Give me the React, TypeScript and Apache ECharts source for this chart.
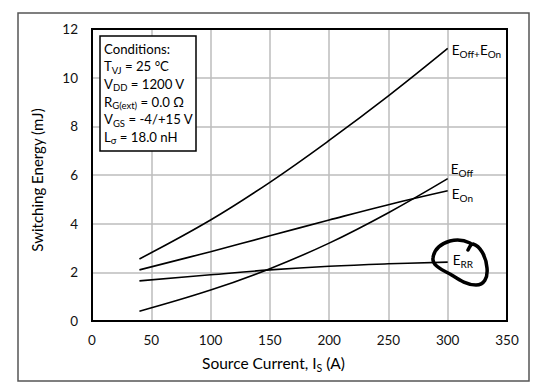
import React, { useEffect, useRef } from "react";
import * as echarts from "echarts";

const current = [40, 100, 150, 200, 250, 300];
const eOffOn = [2.55, 4.15, 5.7, 7.42, 9.25, 11.2];
const eOff = [0.4, 1.27, 2.15, 3.2, 4.45, 5.85];
const eOn = [2.1, 2.85, 3.5, 4.15, 4.78, 5.35];
const eRR = [1.65, 1.9, 2.1, 2.25, 2.35, 2.42];

const xTicks = { min: 0, max: 350, interval: 50 };
const yTicks = { min: 0, max: 12, interval: 2 };

const conditionLines = [
  "{m|Conditions:}",
  "{m|T}{s|VJ}{m| = 25 °C}",
  "{m|V}{s|DD}{m| = 1200 V}",
  "{m|R}{s|G(ext)}{m| = 0.0 Ω}",
  "{m|V}{s|GS}{m| = -4/+15 V}",
  "{m|L}{s|σ}{m| = 18.0 nH}",
];

const FONT = "Lato, 'Open Sans', sans-serif";

const CIRCLE_D =
  "M38 12 C40 8 41 6 43 6 C50 8 56 18 57 30 C58 40 54 47 46 47 C36 47 28 41 20 36 C8 30 2 26 3 20 C4 12 10 6 20 3 C28 1 34 2 40 5";

let registered = false;

const labelRich = {
  e: { fontSize: 13.5, lineHeight: 18, fontFamily: FONT, color: "#000", verticalAlign: "middle" as const },
  s: { fontSize: 10, lineHeight: 8, fontFamily: FONT, color: "#000", verticalAlign: "bottom" as const },
};

function mk(name: string, values: number[], fmt: string, offset: number[]) {
  return {
    name,
    type: "line",
    data: current.map((c, i) => [c, values[i]]),
    smooth: 0.4,
    showSymbol: false,
    lineStyle: { color: "#000", width: 1.6 },
    itemStyle: { color: "#000" },
    endLabel: {
      show: true,
      formatter: () => fmt,
      offset,
      distance: 0,
      rich: labelRich,
      align: "left",
      verticalAlign: "middle",
    },
  };
}

export default function App() {
  const ref = useRef<HTMLDivElement>(null);
  useEffect(() => {
    if (!ref.current) return;
    if (!registered) {
      echarts.graphic.registerShape("errCircle", echarts.graphic.extendPath(CIRCLE_D, {}) as any);
      registered = true;
    }
    const chart = echarts.init(ref.current, null, { renderer: "svg" });
    chart.setOption({
      animation: false,
      backgroundColor: "#fff",
      textStyle: { fontFamily: FONT },
      grid: {
        left: 92,
        top: 29,
        right: 32,
        bottom: 67,
        show: true,
        borderColor: "#000",
        borderWidth: 2,
        z: 3,
      },
      xAxis: {
        type: "value",
        ...xTicks,
        axisLine: { show: true, lineStyle: { color: "#000", width: 2 } },
        axisTick: { show: false },
        axisLabel: { fontSize: 13.5, color: "#111", margin: 12, fontFamily: FONT },
        splitLine: { show: true, showMinLine: false, showMaxLine: false, lineStyle: { color: "#bdbdbd", width: 1.5 } },
      },
      yAxis: {
        type: "value",
        ...yTicks,
        axisLine: { show: true, lineStyle: { color: "#000", width: 2 } },
        axisTick: { show: false },
        axisLabel: { fontSize: 13.5, color: "#111", margin: 14, fontFamily: FONT },
        splitLine: { show: true, showMinLine: false, showMaxLine: false, lineStyle: { color: "#bdbdbd", width: 1.5 } },
      },
      series: [
        mk("Eoff+Eon", eOffOn, "{e|E}{s|Off+}{e|E}{s|On}", [4, 2]),
        mk("Eoff", eOff, "{e|E}{s|Off}", [3, -10]),
        mk("Eon", eOn, "{e|E}{s|On}", [4, 3]),
        mk("Err", eRR, "{e|E}{s|RR}", [5, -2]),
      ],
      graphic: [
        {
          type: "rect",
          z: -1,
          shape: { x: 18, y: 13, width: 511, height: 368 },
          style: { fill: "none", stroke: "#555", lineWidth: 1.5 },
          silent: true,
        },
        {
          type: "rect",
          z: 10,
          shape: { x: 100, y: 36, width: 96, height: 115 },
          style: { fill: "#fff", stroke: "#000", lineWidth: 1.5 },
        },
        {
          type: "text",
          z: 11,
          x: 104,
          y: 40,
          style: {
            text: conditionLines.join("\n"),
            rich: {
              m: { fontSize: 13.2, lineHeight: 17.6, fontFamily: FONT, fill: "#000", verticalAlign: "middle" },
              s: { fontSize: 9.5, lineHeight: 7, fontFamily: FONT, fill: "#000", verticalAlign: "bottom" },
            },
          },
        },
        {
          type: "text",
          x: 273.5,
          y: 363,
          style: {
            text: "{m|Source Current, I}{s|S}{m| (A)}",
            align: "center",
            verticalAlign: "middle",
            rich: {
              m: { fontSize: 15.5, lineHeight: 20, fontFamily: FONT, fill: "#000", verticalAlign: "middle" },
              s: { fontSize: 10.5, lineHeight: 9, fontFamily: FONT, fill: "#000", verticalAlign: "bottom" },
            },
          },
        },
        {
          type: "text",
          x: 37,
          y: 180,
          rotation: Math.PI / 2,
          style: {
            text: "Switching Energy (mJ)",
            align: "center",
            verticalAlign: "middle",
            font: `15px ${FONT}`,
            fill: "#000",
          },
        },
        {
          type: "errCircle",
          x: 430,
          y: 238,
          z: 12,
          style: { fill: "none", stroke: "#000", lineWidth: 3.5, lineCap: "round", lineJoin: "round" },
        } as any,
      ],
    });
    return () => chart.dispose();
  }, []);
  return <div ref={ref} style={{ position: "absolute", left: 0, top: 0, width: 539, height: 388 }} />;
}
